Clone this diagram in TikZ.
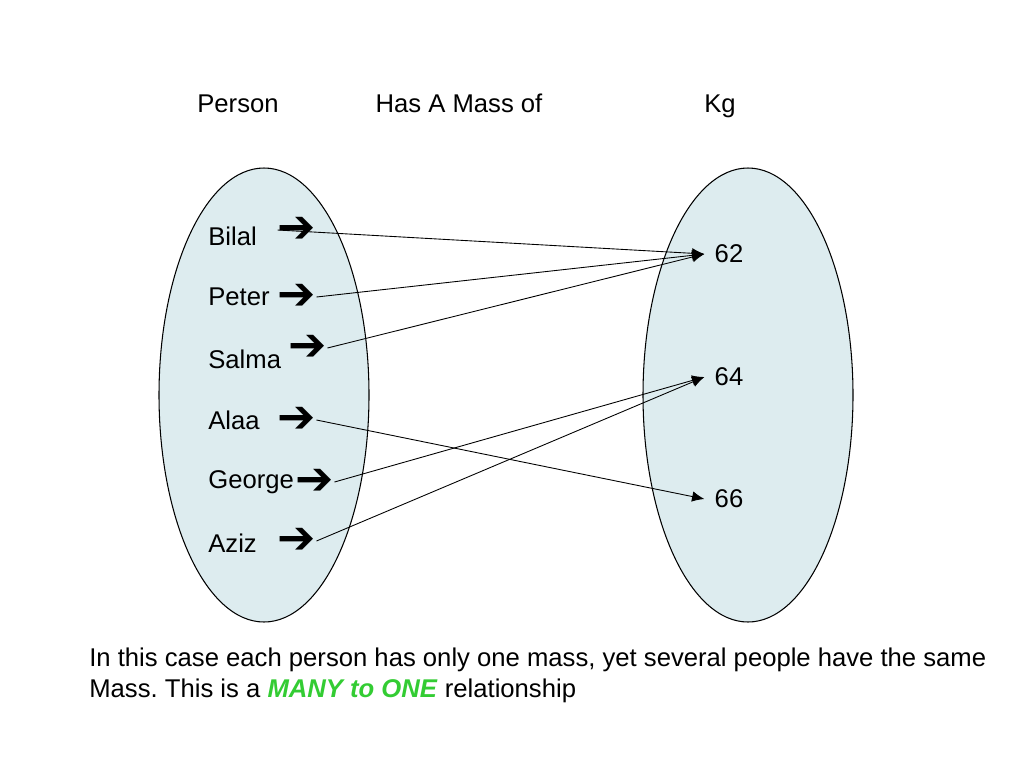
\documentclass[tikz,border=0pt]{standalone}
\usepackage{fontspec}
\setmainfont{Liberation Sans}
\newfontfamily\symfont{DejaVu Sans}
\usetikzlibrary{arrows.meta}
\definecolor{setfill}{RGB}{221,236,239}
\definecolor{manygreen}{RGB}{51,204,51}
\frenchspacing
\begin{document}
\begin{tikzpicture}[x=0.02cm,y=-0.02cm,
  every node/.style={font=\fontsize{14.6}{17}\selectfont},
  setoval/.style={draw,fill=setfill,line width=0.6pt},
  header/.style={anchor=base},
  personlbl/.style={anchor=west,inner sep=0pt},
  pointer/.style={inner sep=0pt,font=\symfont\bfseries\fontsize{26}{26}\selectfont},
  mass/.style={inner sep=0.2cm},
  maps/.style={line width=0.5pt,-{Latex[length=7pt,width=6pt]}}]
\useasboundingbox (0,0) rectangle (1024,768);
\draw[setoval] (264,395) ellipse (105 and 227);
\draw[setoval] (748,395) ellipse (105 and 227);
\node[header] (hperson) at (238,112){Person};
\node[header] (hmass) at (459,112){Has A Mass of};
\node[header] (hkg) at (720,112){Kg};
\node[personlbl] (bilal) at (208,236){Bilal};
\node[personlbl] (peter) at (208,297){Peter};
\node[personlbl] (salma) at (208,359){Salma};
\node[personlbl] (alaa) at (208,420){Alaa};
\node[personlbl] (george) at (208,482){George};
\node[personlbl] (aziz) at (208,543){Aziz};
\node[pointer] (bilalp) at (297,230){➔};
\node[pointer] (peterp) at (297,297){➔};
\node[pointer] (salmap) at (308,348){➔};
\node[pointer] (alaap) at (297,420){➔};
\node[pointer] (georgep) at (315,482){➔};
\node[pointer] (azizp) at (297,541){➔};
\node[mass] (m62) at (729,254){62};
\node[mass] (m64) at (729,377){64};
\node[mass] (m66) at (729,499){66};
\draw[maps] (bilalp.west) -- (m62.west);
\draw[maps] (peterp.east) -- (m62.west);
\draw[maps] (salmap.east) -- (m62.west);
\draw[maps] (alaap.east) -- (m66.west);
\draw[maps] (georgep.east) -- (m64.west);
\draw[maps] (azizp.east) -- (m64.west);
\node[anchor=north west,align=left,inner sep=0pt,font=\fontsize{14.6}{17.2}\selectfont] (note) at (89,648)
  {In this case each person has only one mass, yet several people have the same\\
   Mass. This is a \textcolor{manygreen}{\textbf{\textit{MANY to ONE}}} relationship};
\end{tikzpicture}
\end{document}
